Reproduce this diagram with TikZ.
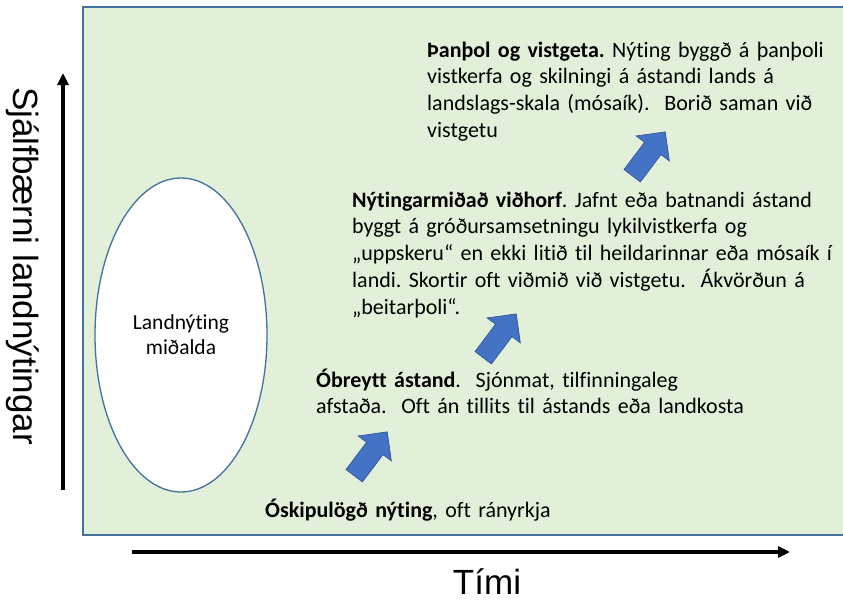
\documentclass[tikz,border=0pt]{standalone}
\usepackage{fontspec}
\setmainfont{Carlito}[Ligatures={NoCommon}]
\newfontfamily\axisfont{Liberation Sans}
\usepackage{tikz}
\usetikzlibrary{positioning}
\usetikzlibrary{shapes.geometric,shapes.arrows,arrows.meta}
\definecolor{paleGreen}{HTML}{E2F0D9}
\definecolor{frameBlue}{HTML}{41719C}
\definecolor{stepBlue}{HTML}{4472C4}
\definecolor{stepEdge}{HTML}{2F528F}
\frenchspacing

\begin{document}
\begin{tikzpicture}[x=1pt, y=-1pt,
    axis/.style={line width=3.4pt, -{Triangle[length=12pt,width=11pt]}},
    axislabel/.style={font=\axisfont\fontsize{35}{40}\selectfont, inner sep=0pt},
    stage/.style={font=\fontsize{22}{26.8}\selectfont, text width=520pt, align=left, inner sep=0pt, anchor=base west},
    uparrow/.style={single arrow, fill=stepBlue, draw=stepEdge, line width=0.6pt, minimum height=55pt, inner sep=10pt, single arrow head extend=10.5pt, rotate=53, anchor=tail}]
    \useasboundingbox (0,0) rectangle (843,600);

    % Background panel
    \draw[frameBlue, line width=1.3pt, fill=paleGreen] (83,7) rectangle (850,535);

    % Axes
    \coordinate (yfoot) at (63,490);
    \coordinate (ytop) at (63,73);
    \coordinate (xfoot) at (132,552);
    \coordinate (xend) at (790,552);
    \draw[axis] (yfoot) -- (ytop);
    \draw[axis] (xfoot) -- (xend);
    \node[axislabel, rotate=-90] (ylabel) at (23,266) {Sjálfbærni landnýtingar};
    \node[axislabel, anchor=base] (xlabel) at (487,594) {Tími};

    % Medieval land use
    \node[ellipse, draw=frameBlue, line width=1.3pt, fill=white, minimum width=172pt, minimum height=314pt,
          inner sep=0pt, align=center, font=\fontsize{21.5}{25}\selectfont] (medieval) at (181,335) {Landnýting\\miðalda};

    % Stages
    \node[stage] (unplanned) at (265,517) {\textbf{Óskipulögð nýting}, oft rányrkja};
    \node[stage] (unchanged) at (316,387) {\textbf{Óbreytt ástand}.\ \ Sjónmat, tilfinningaleg\\
        afstaða.\ \ Oft án tillits til ástands eða landkosta};
    \node[stage] (useoriented) at (352,207) {\textbf{Nýtingarmiðað viðhorf}. Jafnt eða batnandi ástand\\
        byggt á gróðursamsetningu lykilvistkerfa og\\
        „uppskeru“ en ekki litið til heildarinnar eða mósaík í\\
        landi. Skortir oft viðmið við vistgetu.\ \ Ákvörðun á\\
        „beitarþoli“.};
    \node[stage] (resilience) at (427,57) {\textbf{Þanþol og vistgeta.} Nýting byggð á þanþoli\\
        vistkerfa og skilningi á ástandi lands á\\
        landslags-skala (mósaík).\ \ Borið saman við\\
        vistgetu};

    % Steps up
    \node[uparrow] (step1) at (354,476) {};
    \node[uparrow] (step2) at (483,358) {};
    \node[uparrow] (step3) at (632,176) {};
\end{tikzpicture}
\end{document}
